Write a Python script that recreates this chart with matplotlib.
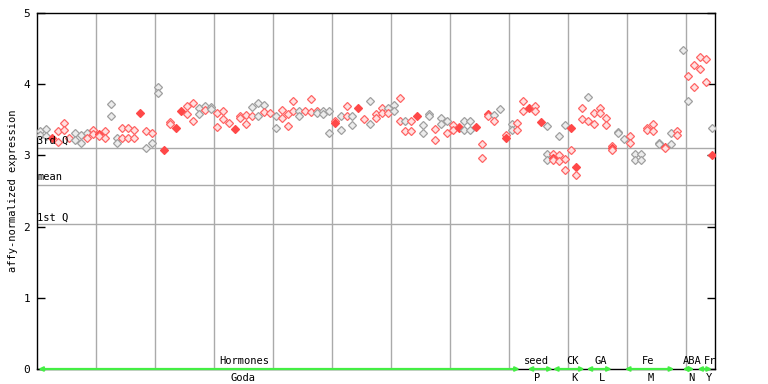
import matplotlib
matplotlib.use('Agg')
import matplotlib.pyplot as plt

# expression values, one list per sample column (replicates)
expr = [
	[3.34, 3.28], [3.37, 3.27], [3.25], [3.34, 3.19], [3.46, 3.35],
	[3.24], [3.32, 3.21], [3.29, 3.18], [3.32, 3.24], [3.35, 3.30],
	[3.30, 3.27], [3.34, 3.25], [3.72, 3.55], [3.24, 3.18], [3.38, 3.24],
	[3.38, 3.24], [3.36, 3.25], [3.60], [3.34, 3.11], [3.32, 3.17],
	[3.96, 3.87], [3.08], [3.47, 3.44], [3.39], [3.62],
	[3.69, 3.58], [3.73, 3.48], [3.66, 3.58], [3.69, 3.64], [3.68, 3.65],
	[3.59, 3.40], [3.62, 3.51], [3.45], [3.37], [3.55, 3.52],
	[3.57, 3.44], [3.68, 3.55], [3.73, 3.55], [3.71, 3.61], [3.59],
	[3.55, 3.39], [3.64, 3.52], [3.58, 3.41], [3.76, 3.62], [3.62, 3.56],
	[3.62], [3.79, 3.61], [3.63, 3.59], [3.63, 3.58], [3.62, 3.32],
	[3.49, 3.46], [3.56, 3.35], [3.70, 3.55], [3.55, 3.42], [3.67],
	[3.51], [3.76, 3.44], [3.58, 3.52], [3.66, 3.60], [3.66, 3.59],
	[3.71, 3.63], [3.80, 3.49], [3.49, 3.34], [3.48, 3.34], [3.56],
	[3.42, 3.32], [3.58, 3.56], [3.37, 3.21], [3.53, 3.44], [3.48, 3.32],
	[3.43, 3.36], [3.40, 3.38], [3.48, 3.35], [3.48, 3.35], [3.40],
	[3.16, 2.96], [3.58, 3.55], [3.57, 3.48], [3.65], [3.28, 3.25],
	[3.44, 3.36], [3.45, 3.36], [3.76, 3.63], [3.67], [3.70, 3.63],
	[3.47], [3.41, 3.02, 2.94], [3.02, 2.97, 2.94], [3.27, 3.00, 2.92], [3.42, 2.95, 2.80],
	[3.39, 3.07], [2.84, 2.73], [3.66, 3.51], [3.82, 3.48], [3.59, 3.44],
	[3.67, 3.59], [3.52, 3.42], [3.13, 3.10, 3.07], [3.33, 3.31], [3.23],
	[3.27, 3.18], [3.02, 2.94], [3.02, 2.94], [3.38, 3.36], [3.44, 3.34],
	[3.18, 3.16], [3.12, 3.10], [3.32, 3.16], [3.34, 3.28], [4.48],
	[4.11, 3.76], [4.27, 3.96], [4.38, 4.22], [4.36, 4.03], [3.39, 3.01],
]
# g = grey open, r = red open, f = red filled
kind = [
	"gg", "gg", "f", "rr", "rr", "r", "gg", "gg", "gr", "rr",
	"fr", "rr", "gg", "gg", "rr", "rr", "rr", "f", "rg", "rg",
	"gg", "f", "rr", "f", "f", "rr", "rr", "gg", "gr", "gg",
	"rr", "rr", "r", "f", "rr", "rr", "gr", "gg", "gr", "r",
	"gg", "rr", "rr", "rr", "gg", "r", "rr", "rg", "gg", "gg",
	"rf", "gg", "rr", "gg", "f", "r", "gg", "rr", "rr", "gr",
	"gg", "rr", "gr", "rr", "f", "gg", "gg", "rr", "gg", "gr",
	"rr", "rf", "gg", "gg", "f", "rr", "fr", "gr", "g", "rf",
	"gg", "rr", "rr", "f", "rr", "f", "ggg", "rfr", "grr", "grr",
	"fr", "fr", "rr", "gr", "rr", "rr", "rr", "rfr", "gg", "g",
	"rr", "gg", "gg", "rr", "rr", "gg", "fr", "gg", "rr", "g",
	"rg", "rr", "rr", "rr", "gf",
]

q1, qmean, q3 = 2.03, 2.59, 3.10

groups = ["Hormones", "seed", "CK", "GA", "Fe", "ABA", "Fr"]
subs = ["Goda", "P", "K", "L", "M", "N", "Y"]
group_span = [(-0.3, 81.4), (82.7, 87.0), (87.0, 92.4), (92.7, 97.0),
			  (99.2, 107.6), (109.0, 111.0), (111.5, 114.0)]
label_x = [34.6, 84.2, 90.3, 95.2, 103.2, 110.7, 113.6]
sub_x = [34.4, 84.4, 90.6, 95.4, 103.6, 110.5, 113.4]

plt.rcParams['font.family'] = 'DejaVu Sans Mono'

fig = plt.figure(figsize=(7.68, 3.84), dpi=100)
ax = fig.add_axes([37/768., 1 - 369/384., 678/768., 356/384.])

styles = {
	'g': dict(marker='D', ms=3.6, mfc='#ececec', mec='#a0a0a0', mew=0.9),
	'r': dict(marker='D', ms=3.6, mfc='#ffe0e0', mec='#ff6464', mew=0.9),
	'f': dict(marker='D', ms=4.2, mfc='#ff4848', mec='#ff4848', mew=0.9),
}

for i in range(len(expr)):
	for v, k in zip(expr[i], kind[i]):
		ax.plot([i], [v], linestyle='none', zorder=3, **styles[k])

ax.set_xlim(-0.5, 114.5)
ax.set_ylim(0, 5)

for gx in range(9, 114, 10):
	ax.axvline(gx + 0.5, color='#aaaaaa', lw=1, zorder=1)

for q, name in [(q3, '3rd Q'), (qmean, 'mean'), (q1, '1st Q')]:
	ax.axhline(q, color='#aaaaaa', lw=1, zorder=1)
	ax.text(-0.45, q + 0.03, name, fontsize=7.5, va='bottom', ha='left', zorder=4)

# green group arrows along the bottom
for (a, b) in group_span:
	ax.annotate('', xy=(b, 0), xytext=(a, 0), xycoords='data',
				arrowprops=dict(arrowstyle='<->', color='#44ee44', lw=1.6,
								shrinkA=0, shrinkB=0, mutation_scale=6),
				annotation_clip=False, zorder=5)

for x, t in zip(label_x, groups):
	ax.text(x, 0.04, t, fontsize=7.5, ha='center', va='bottom')
for x, t in zip(sub_x, subs):
	ax.text(x, -0.06, t, fontsize=7.5, ha='center', va='top', clip_on=False)

ax.set_xticks([])
ax.set_yticks([0, 1, 2, 3, 4, 5])
ax.tick_params(axis='y', direction='in', length=6, width=1, labelsize=8,
			   right=True, pad=5)
for s in ['left', 'right', 'top', 'bottom']:
	ax.spines[s].set_color('black')
	ax.spines[s].set_linewidth(1)

ax.set_ylabel('affy-normalized expression', fontsize=7.5, labelpad=4)

plt.savefig('out.png', dpi=100)
